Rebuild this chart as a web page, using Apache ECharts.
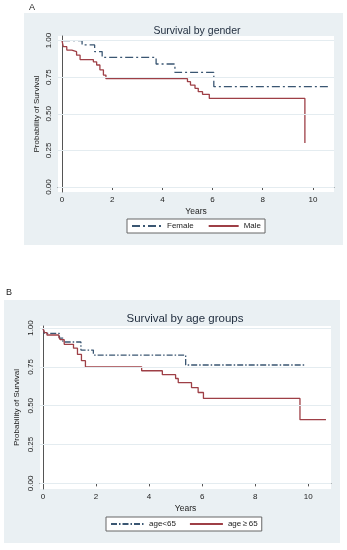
<!DOCTYPE html>
<html><head><meta charset="utf-8">
<script src="https://cdn.jsdelivr.net/npm/echarts@6/dist/echarts.min.js"></script>
<style>html,body{margin:0;padding:0;background:#fff}#c{width:347px;height:550px}</style>
</head><body><div id="c"></div>
<script>
// Panel A: Survival by gender
const femaleTime = [0, 0.8, 1.3, 1.6, 3.75, 4.5, 6.05, 10.68];
const femaleSurv = [1.0, 0.97, 0.925, 0.885, 0.84, 0.782, 0.685, 0.685];
const maleTime = [0, 0.05, 0.19, 0.39, 0.58, 0.72, 1.25, 1.38, 1.51, 1.65, 1.75, 5.0, 5.12, 5.3, 5.43, 5.6, 5.87, 9.68];
const maleSurv = [1.0, 0.958, 0.935, 0.924, 0.9, 0.87, 0.855, 0.833, 0.8, 0.764, 0.74, 0.719, 0.696, 0.674, 0.651, 0.633, 0.605, 0.30];
// Panel B: Survival by age groups
const youngTime = [0, 0.05, 0.62, 0.75, 1.43, 1.9, 5.38, 9.91];
const youngSurv = [1.0, 0.965, 0.935, 0.91, 0.858, 0.826, 0.762, 0.762];
const oldTime = [0, 0.05, 0.15, 0.6, 0.65, 0.8, 1.15, 1.3, 1.45, 1.6, 3.72, 4.5, 5.0, 5.1, 5.6, 5.85, 6.05, 9.69, 10.67];
const oldSurv = [1.0, 0.97, 0.955, 0.94, 0.925, 0.895, 0.87, 0.83, 0.79, 0.75, 0.725, 0.70, 0.675, 0.648, 0.617, 0.585, 0.547, 0.41, 0.41];
// ticks and labels
const xTicks = [0, 2, 4, 6, 8, 10];
const yTicks = [0, 0.25, 0.5, 0.75, 1];
const titles = ['Survival by gender', 'Survival by age groups'];
const legendA = ['Female', 'Male'];
const legendB = ['age<65', 'age\u2009\u2265\u200965'];

const pairs = (t, s) => t.map((v, i) => [v, s[i]]);
const FONT = 'Liberation Sans, Arial, sans-serif';
const NAVY = '#3a5672', MAROON = '#9e3f46', AX = '#555';
const GRIDC = '#e4ecf0';

function xAxisDef(idx, min, max) {
  return {
    type: 'value', gridIndex: idx, min: min, max: max,
    name: 'Years', nameLocation: 'middle', nameGap: 15,
    nameTextStyle: {fontFamily: FONT, fontSize: 8.5, color: '#222'},
    axisLine: {show: true, lineStyle: {color: AX, width: 1}},
    axisTick: {show: true, length: 3, customValues: xTicks, lineStyle: {color: AX}},
    axisLabel: {customValues: xTicks, fontFamily: FONT, fontSize: 8, color: '#222', margin: 4},
    splitLine: {show: false}
  };
}
function yAxisDef(idx, min, max, gap) {
  return {
    type: 'value', gridIndex: idx, min: min, max: max,
    name: 'Probability of Survival', nameLocation: 'middle', nameRotate: 90, nameGap: gap,
    nameMoveOverlap: false,
    nameTextStyle: {fontFamily: FONT, fontSize: 8, color: '#222'},
    axisLine: {show: true, lineStyle: {color: AX, width: 1}},
    axisTick: {show: true, length: 3, customValues: yTicks, lineStyle: {color: AX}},
    axisLabel: {customValues: yTicks, rotate: 90, fontFamily: FONT, fontSize: 8, color: '#222', margin: 5,
      formatter: v => v.toFixed(2)},
    splitLine: {show: false}
  };
}
function gridLines() {
  return {
    silent: true, symbol: 'none', label: {show: false},
    lineStyle: {color: GRIDC, type: 'solid', width: 1},
    data: yTicks.map(v => ({yAxis: v}))
  };
}
function legendDef(data, left, top, iw, gap) {
  return {data: data, left: left, top: top, orient: 'horizontal', itemWidth: iw, itemHeight: 9, itemGap: gap,
    padding: [3, 4, 3, 4], borderColor: '#666', borderWidth: 1, backgroundColor: '#fff', borderRadius: 0,
    itemStyle: {opacity: 0, borderWidth: 0},
    textStyle: {fontFamily: FONT, fontSize: 8, color: '#1a1a1a'}};
}

const option = {
  animation: false,
  backgroundColor: '#fff',
  graphic: [
    {type: 'rect', z: -10, shape: {x: 24, y: 13, width: 319, height: 232}, style: {fill: '#eaf0f3'}},
    {type: 'rect', z: -10, shape: {x: 4, y: 300, width: 336, height: 243}, style: {fill: '#eaf0f3'}},
    {type: 'text', z: 5, x: 29, y: 3, style: {text: 'A', fontFamily: FONT, fontSize: 9, fill: '#222'}},
    {type: 'text', z: 5, x: 6, y: 288, style: {text: 'B', fontFamily: FONT, fontSize: 9, fill: '#222'}}
  ],
  title: [
    {text: titles[0], left: 192, top: 21, textAlign: 'center',
      textStyle: {fontFamily: FONT, fontSize: 10.5, fontWeight: 'normal', color: '#1e2b3c'}},
    {text: titles[1], left: 180, top: 308, textAlign: 'center',
      textStyle: {fontFamily: FONT, fontSize: 11.5, fontWeight: 'normal', color: '#1e2b3c'}}
  ],
  legend: [legendDef(legendA, 127, 219, 30, 14), legendDef(legendB, 106, 517, 33, 13)],
  grid: [
    {left: 58, top: 36, width: 276, height: 156, show: true, backgroundColor: '#fff', borderWidth: 0},
    {left: 40, top: 326, width: 291, height: 163, show: true, backgroundColor: '#fff', borderWidth: 0}
  ],
  xAxis: [xAxisDef(0, -0.16, 10.84), xAxisDef(1, -0.113, 10.86)],
  yAxis: [yAxisDef(0, -0.034, 1.031, 17), yAxisDef(1, -0.036, 1.013, 19)],
  series: [
    {name: legendA[0], type: 'line', step: 'end', xAxisIndex: 0, yAxisIndex: 0, showSymbol: false, symbol: 'none',
      data: pairs(femaleTime, femaleSurv), lineStyle: {color: NAVY, width: 1.3, type: [8, 3, 2, 3]}, itemStyle: {color: NAVY},
      markLine: gridLines(), z: 3},
    {name: legendA[1], type: 'line', step: 'end', xAxisIndex: 0, yAxisIndex: 0, showSymbol: false, symbol: 'none',
      data: pairs(maleTime, maleSurv), lineStyle: {color: MAROON, width: 1.3, type: 'solid'}, itemStyle: {color: MAROON}, z: 3},
    {name: legendB[0], type: 'line', step: 'end', xAxisIndex: 1, yAxisIndex: 1, showSymbol: false, symbol: 'none',
      data: pairs(youngTime, youngSurv), lineStyle: {color: NAVY, width: 1.3, type: [6, 2, 1.5, 2]}, itemStyle: {color: NAVY},
      markLine: gridLines(), z: 3},
    {name: legendB[1], type: 'line', step: 'end', xAxisIndex: 1, yAxisIndex: 1, showSymbol: false, symbol: 'none',
      data: pairs(oldTime, oldSurv), lineStyle: {color: MAROON, width: 1.3, type: 'solid'}, itemStyle: {color: MAROON}, z: 3}
  ]
};
const chart = echarts.init(document.getElementById('c'), null, {renderer: 'canvas'});
chart.setOption(option);
</script></body></html>
